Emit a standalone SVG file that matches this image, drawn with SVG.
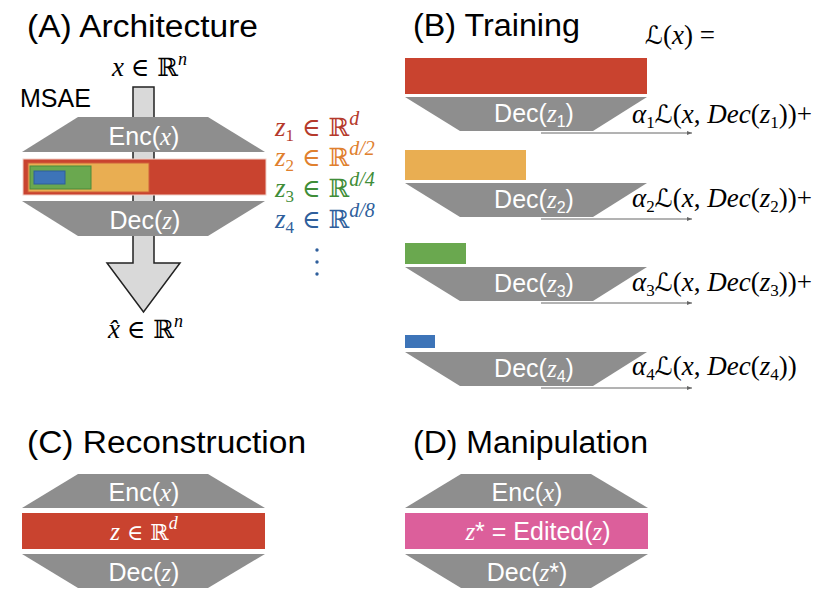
<svg xmlns="http://www.w3.org/2000/svg" width="836" height="614" viewBox="0 0 836 614">
<defs>
<style>
.title{font-family:"Liberation Sans",Arial,sans-serif;font-size:31px;fill:#000}
.lbl{font-family:"Liberation Sans",Arial,sans-serif;font-size:25px;fill:#fff}
.m{font-family:"Liberation Serif","DejaVu Serif",serif;font-style:italic}
.up{font-family:"DejaVu Serif","DejaVu Sans",serif;font-style:normal}
.math{font-family:"Liberation Serif","DejaVu Serif",serif;font-size:27px;fill:#000}
.trap{fill:#8e8e8e}
.ln{stroke:#666;stroke-width:1;fill:none}
</style>
<marker id="ah" markerWidth="6" markerHeight="6" refX="5" refY="3" orient="auto" markerUnits="userSpaceOnUse">
<path d="M0,1 L5,3 L0,5 Z" fill="#666"/>
</marker>
</defs>
<rect width="836" height="614" fill="#fff"/>

<!-- Panel A -->
<g id="panelA">
<text class="title" x="27" y="37" textLength="231" lengthAdjust="spacingAndGlyphs">(A) Architecture</text>
<text class="math" x="112" y="76"><tspan class="m">x</tspan> <tspan class="up" font-size="25">∈ ℝ</tspan><tspan class="m" font-size="18" dy="-11">n</tspan></text>
<text x="20" y="107" font-family="Liberation Sans,Arial,sans-serif" font-size="25">MSAE</text>
<g id="arrow"><path d="M133,87 L154,87 L154,263 L180,263 L143.5,312 L107,263 L133,263 Z" fill="#d9d9d9" stroke="#222" stroke-width="1.5"/></g>
<g id="encA"><polygon class="trap" points="78,117 208,117 265,152 22,152"/>
<text class="lbl" x="144" y="145" text-anchor="middle">Enc(<tspan class="m">x</tspan>)</text></g>
<g id="latentA">
<rect x="23" y="159" width="243" height="36" fill="#c9432f" stroke="#f0d0c8" stroke-width="1"/>
<rect x="28" y="163" width="121" height="29" fill="#e9ae52" stroke="#d0603a" stroke-width="1"/>
<rect x="30" y="166" width="61" height="23" fill="#6aa84f" stroke="#4a8a3a" stroke-width="1"/>
<rect x="34" y="171" width="31" height="13" fill="#3d74b8" stroke="#2e5e9a" stroke-width="1"/>
</g>
<g id="decA"><polygon class="trap" points="22,201 265,201 208,236 78,236"/>
<text class="lbl" x="145" y="229" text-anchor="middle">Dec(<tspan class="m">z</tspan>)</text></g>
<text class="math" x="108" y="338"><tspan class="m">x̂</tspan> <tspan class="up" font-size="25">∈ ℝ</tspan><tspan class="m" font-size="18" dy="-11">n</tspan></text>
<g id="zlabels" font-family="Liberation Serif,serif" font-size="27">
<text x="275" y="136" fill="#b53a2c"><tspan class="m">z</tspan><tspan font-size="17" dy="5">1</tspan><tspan class="up" font-size="25" dy="-5"> ∈ ℝ</tspan><tspan class="m" font-size="20" dy="-11">d</tspan></text>
<text x="275" y="166" fill="#e0802e"><tspan class="m">z</tspan><tspan font-size="17" dy="5">2</tspan><tspan class="up" font-size="25" dy="-5"> ∈ ℝ</tspan><tspan class="m" font-size="20" dy="-11">d/2</tspan></text>
<text x="275" y="197" fill="#3f8d38"><tspan class="m">z</tspan><tspan font-size="17" dy="5">3</tspan><tspan class="up" font-size="25" dy="-5"> ∈ ℝ</tspan><tspan class="m" font-size="20" dy="-11">d/4</tspan></text>
<text x="275" y="228" fill="#2f5f9c"><tspan class="m">z</tspan><tspan font-size="17" dy="5">4</tspan><tspan class="up" font-size="25" dy="-5"> ∈ ℝ</tspan><tspan class="m" font-size="20" dy="-11">d/8</tspan></text>
<circle cx="317" cy="250" r="1.7" fill="#2f5f9c"/>
<circle cx="317" cy="262" r="1.7" fill="#2f5f9c"/>
<circle cx="317" cy="274" r="1.7" fill="#2f5f9c"/>
</g>
</g>

<!-- Panel B -->
<g id="panelB">
<text class="title" x="413" y="36" textLength="167" lengthAdjust="spacingAndGlyphs">(B) Training</text>
<text class="math" x="645" y="44"><tspan class="up" font-size="25">ℒ</tspan>(<tspan class="m">x</tspan>) =</text>
<g id="b1">
<rect x="405" y="58" width="242" height="36" fill="#c9432f"/>
<polygon class="trap" points="405,97 647,97 593,131 460,131"/>
<text class="lbl" x="534" y="122" text-anchor="middle">Dec(<tspan class="m">z</tspan><tspan font-size="16" dy="5">1</tspan><tspan dy="-5">)</tspan></text>
<text class="math" x="632" y="123"><tspan class="m">α</tspan><tspan font-size="17" dy="5">1</tspan><tspan class="up" font-size="25" dy="-5">ℒ</tspan>(<tspan class="m">x</tspan>, <tspan class="m">Dec</tspan>(<tspan class="m">z</tspan><tspan font-size="17" dy="5">1</tspan><tspan dy="-5">))+</tspan></text>
</g>
<g id="b2">
<rect x="405" y="150" width="121" height="30" fill="#e9ae52"/>
<polygon class="trap" points="405,183 647,183 593,217 460,217"/>
<text class="lbl" x="534" y="208" text-anchor="middle">Dec(<tspan class="m">z</tspan><tspan font-size="16" dy="5">2</tspan><tspan dy="-5">)</tspan></text>
<text class="math" x="632" y="207"><tspan class="m">α</tspan><tspan font-size="17" dy="5">2</tspan><tspan class="up" font-size="25" dy="-5">ℒ</tspan>(<tspan class="m">x</tspan>, <tspan class="m">Dec</tspan>(<tspan class="m">z</tspan><tspan font-size="17" dy="5">2</tspan><tspan dy="-5">))+</tspan></text>
</g>
<g id="b3">
<rect x="405" y="243" width="61" height="21" fill="#6aa84f"/>
<polygon class="trap" points="405,267 647,267 593,301 460,301"/>
<text class="lbl" x="534" y="292" text-anchor="middle">Dec(<tspan class="m">z</tspan><tspan font-size="16" dy="5">3</tspan><tspan dy="-5">)</tspan></text>
<text class="math" x="632" y="291"><tspan class="m">α</tspan><tspan font-size="17" dy="5">3</tspan><tspan class="up" font-size="25" dy="-5">ℒ</tspan>(<tspan class="m">x</tspan>, <tspan class="m">Dec</tspan>(<tspan class="m">z</tspan><tspan font-size="17" dy="5">3</tspan><tspan dy="-5">))+</tspan></text>
</g>
<g id="b4">
<rect x="405" y="335" width="30" height="13" fill="#3d74b8"/>
<polygon class="trap" points="405,352 647,352 593,386 460,386"/>
<text class="lbl" x="534" y="377" text-anchor="middle">Dec(<tspan class="m">z</tspan><tspan font-size="16" dy="5">4</tspan><tspan dy="-5">)</tspan></text>
<text class="math" x="632" y="375"><tspan class="m">α</tspan><tspan font-size="17" dy="5">4</tspan><tspan class="up" font-size="25" dy="-5">ℒ</tspan>(<tspan class="m">x</tspan>, <tspan class="m">Dec</tspan>(<tspan class="m">z</tspan><tspan font-size="17" dy="5">4</tspan><tspan dy="-5">))</tspan></text>
</g>
</g>
<g id="connectors">
<line class="ln" x1="541" y1="133" x2="692" y2="133" marker-end="url(#ah)"/>
<line class="ln" x1="541" y1="219" x2="692" y2="219" marker-end="url(#ah)"/>
<line class="ln" x1="541" y1="303" x2="692" y2="303" marker-end="url(#ah)"/>
<line class="ln" x1="541" y1="388" x2="692" y2="388" marker-end="url(#ah)"/>
</g>

<!-- Panel C -->
<g id="panelC">
<text class="title" x="27" y="453" textLength="279" lengthAdjust="spacingAndGlyphs">(C) Reconstruction</text>
<g id="encC"><polygon class="trap" points="78,474 208,474 265,508 22,508"/>
<text class="lbl" x="144" y="501" text-anchor="middle">Enc(<tspan class="m">x</tspan>)</text></g>
<g id="latentC"><rect x="22" y="513" width="243" height="36" fill="#c9432f"/>
<text class="lbl" x="144" y="540" text-anchor="middle"><tspan class="m">z</tspan><tspan class="up" font-size="22"> ∈ ℝ</tspan><tspan class="m" font-size="18" dy="-11">d</tspan></text></g>
<g id="decC"><polygon class="trap" points="22,554 265,554 208,588 78,588"/>
<text class="lbl" x="144" y="581" text-anchor="middle">Dec(<tspan class="m">z</tspan>)</text></g>
</g>

<!-- Panel D -->
<g id="panelD">
<text class="title" x="413" y="453" textLength="235" lengthAdjust="spacingAndGlyphs">(D) Manipulation</text>
<g id="encD"><polygon class="trap" points="461,474 591,474 648,508 405,508"/>
<text class="lbl" x="527" y="501" text-anchor="middle">Enc(<tspan class="m">x</tspan>)</text></g>
<g id="latentD"><rect x="405" y="513" width="243" height="36" fill="#dc5f9b"/>
<text class="lbl" x="538" y="540" text-anchor="middle"><tspan class="m">z</tspan>* = Edited(<tspan class="m">z</tspan>)</text></g>
<g id="decD"><polygon class="trap" points="405,554 648,554 591,588 461,588"/>
<text class="lbl" x="527" y="581" text-anchor="middle">Dec(<tspan class="m">z</tspan>*)</text></g>
</g>
</svg>
